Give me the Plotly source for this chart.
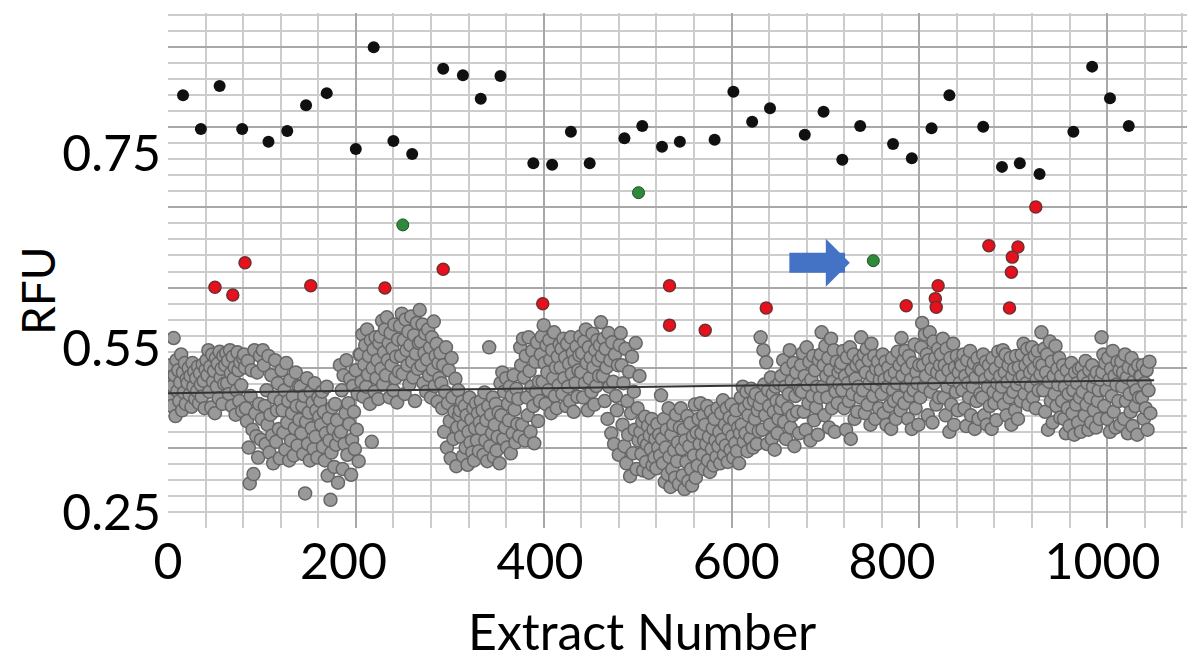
import plotly.graph_objects as go

# Gray extracts, in thousandths of RFU, listed in extract order (1, 2, 3, ...)
GRAY_1 = [
    437, 412, 455, 398, 426, 493, 441, 384, 462, 419, 448, 405, 431, 470, 392, 445, 417, 458, 401, 436,
    430, 451, 414, 440, 397, 458, 425, 446, 408, 437, 419, 453, 402, 444, 428, 411, 456, 433, 395, 449,
    462, 441, 476, 418, 453, 396, 470, 432, 447, 388, 465, 425, 457, 409, 474, 438, 450, 401, 468, 429,
    455, 472, 430, 461, 415, 476, 444, 398, 467, 436, 452, 386, 420, 473, 448, 405, 459, 427, 391, 465,
    470, 452, 395, 377, 461, 340, 290, 412, 448, 365, 303, 476, 388, 356, 445, 326, 401, 468, 351, 380,
    476, 455, 398, 345, 420, 372, 468, 333, 386, 441, 357, 318, 410, 462, 348, 392, 430, 366, 325, 405,
    448, 392, 361, 420, 337, 458, 375, 405, 322, 434, 350, 388, 412, 329, 367, 445, 398, 343, 426, 379,
    425, 360, 398, 331, 412, 276, 376, 437, 345, 389, 322, 418, 367, 403, 338, 430, 355, 392, 326, 410, 383,
    405, 372, 418, 341, 390, 322, 360, 425, 301, 381, 350, 267, 333, 396, 366, 313, 401, 344, 378, 291, 357,
    455, 362, 420, 310, 441, 345, 388, 462, 330, 402, 373, 436, 302, 351, 426, 390, 338, 448, 365, 415, 321, 470,
    470, 432, 498, 411, 456, 483, 425, 505, 442, 468, 401, 490, 348, 451, 477, 418, 494, 437, 462, 408, 486,
    495, 450, 517, 428, 473, 505, 441, 522, 462, 486, 410, 500, 455, 478, 420, 512, 437, 467, 403, 491, 446,
    510, 468, 527, 443, 490, 415, 519, 476, 455, 502, 428, 483, 523, 460, 438, 497, 405, 471, 514, 450, 486, 532,
]
GRAY_2 = [
    488, 455, 512, 430, 472, 499, 418, 463, 505, 441, 480, 410, 494, 449, 516, 426, 468, 485, 404, 458, 437,
    472, 430, 395, 455, 362, 418, 480, 340, 402, 448, 377, 325, 465, 410, 352, 390, 436, 314, 368, 420, 385,
    392, 355, 404, 328, 371, 398, 340, 385, 316, 362, 410, 347, 379, 333, 395, 322, 367, 402, 350, 388, 335, 375,
    405, 366, 392, 330, 417, 350, 378, 321, 398, 480, 342, 386, 360, 410, 327, 372, 401, 336, 355, 389, 318,
    430, 385, 445, 352, 418, 368, 437, 340, 401, 378, 425, 332, 412, 360, 441, 393, 347, 422, 373, 408, 356,
    480, 455, 372, 492, 438, 350, 468, 410, 385, 494, 447, 362, 425, 475, 398, 346, 460, 418, 487, 377, 432, 405,
    470, 495, 432, 511, 458, 401, 483, 445, 420, 490, 463, 388, 476, 437, 501, 412, 452, 395, 467, 427, 484,
    452, 478, 415, 492, 437, 466, 398, 485, 425, 457, 405, 494, 443, 472, 390, 461, 430, 481, 411, 448, 469,
    495, 445, 472, 410, 488, 430, 505, 458, 392, 480, 437, 466, 418, 499, 452, 400, 476, 426, 490, 462, 440, 483,
    515, 468, 440, 492, 405, 478, 452, 380, 500, 425, 462, 360, 487, 432, 345, 470, 412, 392, 455, 330, 483,
    500, 455, 372, 430, 342, 478, 318, 405, 358, 446, 300, 388, 467, 332, 418, 365, 486, 310, 395, 350, 440,
    362, 331, 376, 308, 350, 383, 320, 344, 370, 305, 357, 338, 380, 315, 365, 326, 352, 311, 373, 340, 358, 329,
]
GRAY_3 = [
    413, 352, 318, 380, 292, 340, 365, 303, 395, 327, 285, 358, 310, 372, 336, 298, 386, 321, 347, 289, 368,
    395, 338, 301, 365, 282, 350, 320, 384, 293, 342, 374, 310, 287, 356, 329, 400, 298, 361, 315, 380, 345,
    402, 360, 330, 385, 310, 372, 345, 398, 322, 355, 306, 390, 338, 367, 315, 380, 350, 327, 395, 342, 362, 318,
    388, 351, 406, 330, 372, 343, 395, 320, 365, 382, 337, 400, 356, 326, 378, 346, 392, 335, 368, 318, 360,
    410, 372, 425, 348, 395, 360, 418, 335, 385, 402, 353, 422, 368, 340, 406, 380, 415, 345, 392, 363, 400,
    494, 410, 365, 476, 428, 385, 459, 345, 420, 398, 372, 438, 352, 415, 390, 337, 425, 405, 360, 380, 430, 395,
    440, 405, 462, 376, 425, 352, 450, 395, 415, 476, 368, 433, 385, 458, 342, 412, 445, 390, 428, 360, 420,
    455, 418, 472, 390, 440, 365, 480, 428, 402, 460, 350, 435, 412, 468, 378, 448, 396, 425, 358, 462, 410,
    470, 501, 425, 455, 385, 482, 440, 410, 465, 368, 448, 492, 395, 432, 476, 362, 418, 460, 402, 445, 428, 452,
    458, 420, 475, 395, 440, 365, 466, 430, 405, 480, 352, 448, 415, 470, 380, 436, 455, 390, 425, 462, 410,
    494, 455, 420, 470, 388, 445, 478, 400, 462, 430, 372, 485, 440, 412, 468, 380, 450, 425, 460, 395, 435,
    448, 415, 470, 388, 435, 460, 372, 425, 452, 398, 440, 366, 465, 420, 405, 445, 380, 430, 474, 410, 455, 392,
]
GRAY_4 = [
    493, 440, 462, 402, 475, 425, 450, 380, 468, 412, 435, 366, 458, 420, 484, 395, 445, 430, 372, 455, 410,
    480, 514, 455, 425, 498, 440, 470, 385, 462, 501, 418, 450, 375, 488, 430, 465, 400, 445, 478, 410, 455,
    470, 440, 492, 410, 455, 385, 478, 425, 448, 362, 465, 400, 435, 485, 372, 452, 418, 468, 392, 445, 430, 458,
    455, 420, 470, 395, 440, 370, 462, 430, 410, 475, 385, 448, 425, 458, 366, 438, 405, 465, 380, 450, 415,
    448, 410, 470, 385, 435, 460, 372, 425, 455, 398, 442, 366, 465, 418, 402, 450, 378, 430, 474, 412, 440,
    460, 425, 476, 400, 445, 470, 385, 432, 455, 410, 465, 372, 440, 418, 450, 392, 468, 428, 380, 452, 436, 405,
    470, 440, 485, 415, 455, 430, 478, 400, 462, 445, 425, 480, 410, 450, 468, 395, 435, 475, 420, 458, 442,
    501, 455, 420, 478, 390, 445, 470, 365, 432, 488, 405, 460, 375, 440, 415, 482, 398, 450, 428, 465, 382,
    440, 405, 455, 380, 425, 360, 448, 395, 415, 370, 435, 458, 388, 420, 358, 445, 400, 430, 375, 450, 410, 362,
    452, 418, 440, 385, 461, 400, 430, 365, 448, 410, 375, 455, 425, 392, 438, 368, 445, 405, 420, 380, 435,
    494, 445, 470, 398, 458, 420, 380, 465, 435, 362, 450, 412, 475, 390, 440, 368, 428, 460, 405, 448, 372,
    460, 425, 445, 380, 470, 405, 438, 360, 452, 415, 390, 465, 370, 432, 448, 398, 420, 358, 455, 410, 440,
    440, 410, 455, 380, 430, 395, 448, 365, 420, 460, 388,
]

BLACK_X = [16, 35, 55, 79, 107, 127, 147, 169, 200, 219, 240, 260, 293, 314, 333,
           354, 389, 409, 429, 449, 486, 505, 526, 545, 582, 602, 622, 641, 678, 698,
           718, 737, 772, 792, 813, 832, 868, 888, 907, 928, 964, 984, 1003, 1023]
BLACK_Y = [0.832, 0.785, 0.845, 0.785, 0.767, 0.782, 0.818, 0.835, 0.757, 0.899, 0.768, 0.750, 0.869, 0.860, 0.827,
           0.859, 0.737, 0.735, 0.781, 0.737, 0.772, 0.789, 0.760, 0.767, 0.770, 0.837, 0.795, 0.814, 0.777, 0.809,
           0.742, 0.789, 0.764, 0.744, 0.786, 0.832, 0.788, 0.732, 0.737, 0.722, 0.781, 0.872, 0.828, 0.789]

RED_X = [50, 69, 82, 152, 231, 293, 399, 534, 534, 572, 637, 786, 817, 818, 820, 874, 905, 899, 898, 896, 924]
RED_Y = [0.564, 0.553, 0.598, 0.566, 0.563, 0.589, 0.541, 0.566, 0.511, 0.504, 0.535,
         0.538, 0.548, 0.536, 0.566, 0.622, 0.620, 0.606, 0.585, 0.535, 0.676]

GREEN_X = [250, 501, 751]
GREEN_Y = [0.651, 0.696, 0.601]

TREND_X = [0, 1050]
TREND_Y = [0.416, 0.434]

X_TICK_POS = [0, 187, 396, 605, 771, 995]
X_TICK_TEXT = ["0", "200", "400", "600", "800", "1000"]
Y_TICK_POS = [0.25, 0.478, 0.75]
Y_TICK_TEXT = ["0.25", "0.55", "0.75"]

X_RANGE = [0, 1085]
Y_RANGE = [0.2277, 0.9469]
Y_STEP = 0.022387

gray_milli = GRAY_1 + GRAY_2 + GRAY_3 + GRAY_4
gray_x = list(range(1, len(gray_milli) + 1))
gray_y = [v / 1000 for v in gray_milli]

FONT = "Lato, 'Open Sans', sans-serif"

fig = go.Figure()
fig.add_trace(go.Scatter(
    x=gray_x, y=gray_y, mode="markers",
    marker=dict(size=13, color="#999999", line=dict(color="#666666", width=1.5)),
))
fig.add_trace(go.Scatter(x=TREND_X, y=TREND_Y, mode="lines", line=dict(color="#333333", width=2)))
fig.add_trace(go.Scatter(
    x=RED_X, y=RED_Y, mode="markers",
    marker=dict(size=12, color="#e8101c", line=dict(color="#6e3030", width=1.5)),
))
fig.add_trace(go.Scatter(x=BLACK_X, y=BLACK_Y, mode="markers", marker=dict(size=12, color="#101010")))
fig.add_trace(go.Scatter(
    x=GREEN_X, y=GREEN_Y, mode="markers",
    marker=dict(size=12, color="#2e8a3a", line=dict(color="#1d5224", width=1)),
))
# empty trace so the overlay axes (darker major grid) get drawn
fig.add_trace(go.Scatter(x=[], y=[], xaxis="x2", yaxis="y2"))

# the page body keeps its default 8px margin, so the figure is 8px smaller
tick_font = dict(family=FONT, size=50, color="black")
fig.update_layout(
    width=1192, height=654,
    margin=dict(l=160, r=13, t=5, b=134),
    paper_bgcolor="white", plot_bgcolor="white",
    showlegend=False,
    font=dict(family=FONT, color="black"),
    xaxis=dict(
        range=X_RANGE, tickmode="array", tickvals=X_TICK_POS, ticktext=X_TICK_TEXT,
        tickfont=tick_font, showgrid=False, zeroline=False, showline=False, ticks="",
        minor=dict(tickmode="linear", tick0=0, dtick=40, showgrid=True, gridcolor="#cccccc", gridwidth=1.5),
    ),
    yaxis=dict(
        range=Y_RANGE, tickmode="array", tickvals=Y_TICK_POS, ticktext=Y_TICK_TEXT,
        tickfont=tick_font, showgrid=False, zeroline=False, showline=False, ticks="",
        ticklabelstandoff=6,
        minor=dict(tickmode="linear", tick0=Y_RANGE[0], dtick=Y_STEP, showgrid=True,
                   gridcolor="#cccccc", gridwidth=1.5),
    ),
    xaxis2=dict(
        range=X_RANGE, overlaying="x", anchor="y2", tick0=0, dtick=200,
        showticklabels=False, ticks="", showgrid=True, gridcolor="#a8a8a8", gridwidth=1.5, zeroline=False,
    ),
    yaxis2=dict(
        range=Y_RANGE, overlaying="y", anchor="x2", tick0=Y_RANGE[0], dtick=5 * Y_STEP,
        showticklabels=False, ticks="", showgrid=True, gridcolor="#a8a8a8", gridwidth=1.5, zeroline=False,
    ),
    annotations=[
        dict(text="Extract Number", xref="paper", yref="paper", x=0.465, y=-0.200,
             xanchor="center", yanchor="middle", showarrow=False, font=dict(family=FONT, size=50)),
        dict(text="RFU", xref="paper", yref="paper", x=-0.1286, y=0.462, textangle=-90,
             xanchor="center", yanchor="middle", showarrow=False, font=dict(family=FONT, size=46)),
        dict(x=726, y=0.598, ax=660, ay=0.598, xref="x", yref="y", axref="x", ayref="y",
             text="", showarrow=True, arrowhead=1, arrowsize=0.4, arrowwidth=20, arrowcolor="#4472c4"),
    ],
)

fig.write_html("out.html")
